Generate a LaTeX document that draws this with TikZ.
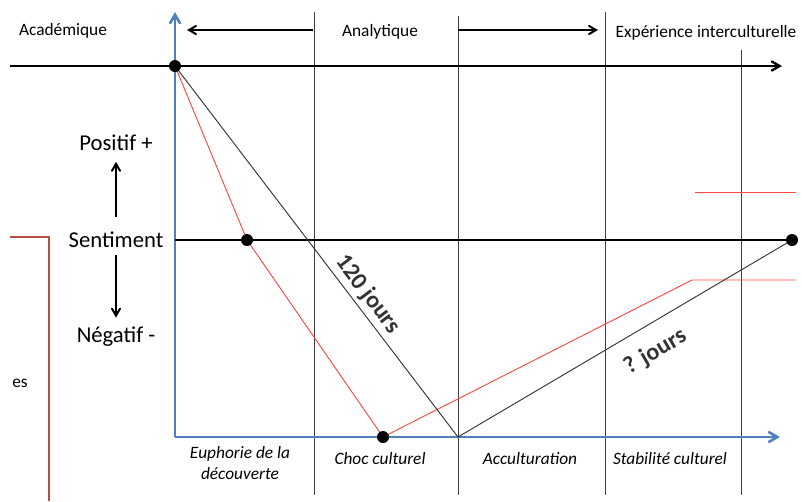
\documentclass[tikz,border=0pt]{standalone}
\usepackage{fontspec}
\setmainfont{Carlito}
\usetikzlibrary{arrows}

\definecolor{axisblue}{RGB}{79,129,189}
\definecolor{curvered}{RGB}{255,70,70}
\definecolor{bracketred}{RGB}{190,75,72}

\begin{document}
\begin{tikzpicture}[x=0.75pt,y=-0.75pt,>=angle 60,
  dot/.style={circle,fill=black,inner sep=0pt,minimum size=9pt},
  blueaxis/.style={axisblue,line width=2pt,->},
  sep/.style={black!75,line width=0.6pt},
  heavy/.style={black,line width=1.8pt},
  slope/.style={black!80,line width=0.7pt},
  redcurve/.style={curvered,line width=0.7pt},
  toptext/.style={font=\fontsize{13}{15}\selectfont},
  sidetext/.style={font=\fontsize{17}{20}\selectfont,inner sep=0pt},
  phase/.style={font=\itshape\fontsize{13}{16}\selectfont,align=center},
  days/.style={font=\bfseries\fontsize{18}{20}\selectfont,sloped,inner sep=3pt}]

\useasboundingbox (0,0) rectangle (802,501);

% points of the graph
\coordinate (B0) at (175,437);
\coordinate (Ytop) at (175,12);
\coordinate (Xend) at (780,437);
\coordinate (L0) at (10,66);
\coordinate (Lend) at (782,66);
\coordinate (S0) at (175,240);
\coordinate (O) at (175,66);
\coordinate (R1) at (247,240);
\coordinate (R2) at (383,437);
\coordinate (R3) at (692,280);
\coordinate (R4) at (796,280);
\coordinate (Rt1) at (695,192);
\coordinate (Rt2) at (796,192);
\coordinate (V) at (458,437);
\coordinate (E) at (792,240);

% phase separators
\foreach \x/\y in {314/12,458/16,605/12,741/50}
  \draw[sep] (\x,\y) -- (\x,495);

% axes
\draw[blueaxis] (B0) -- (Ytop);
\draw[blueaxis] (B0) -- (Xend);
\draw[heavy,->] (L0) -- (Lend);
\draw[heavy] (S0) -- (E);

% top arrows
\coordinate (A1) at (313,30);
\coordinate (A2) at (187,30);
\coordinate (A3) at (458,30);
\coordinate (A4) at (598,30);
\draw[->,line width=1.5pt] (A1) -- (A2);
\draw[->,line width=1.5pt] (A3) -- (A4);

% curves
\draw[redcurve] (O) -- (R1) -- (R2) -- (R3) -- (R4);
\draw[redcurve] (Rt1) -- (Rt2);
\draw[slope] (O) -- node[days,pos=0.64,above] {120 jours} (V)
  -- node[days,pos=0.55,below=9pt] {? jours} (E);
\draw[bracketred,line width=0.8pt] (10,237) -| (49,501);

\foreach \p in {O,R1,R2,E}
  \node[dot] at (\p) {};

% labels
\node[toptext] (acad) at (63,31) {Académique};
\node[toptext] (anal) at (380,32) {Analytique};
\node[toptext] (exp) at (706,33) {Expérience interculturelle};
\node[toptext] (es) at (20,383) {es};

\node[sidetext] (sent) at (116,240) {Sentiment};
\node[sidetext] (pos) at (116,143) {Positif +};
\node[sidetext] (neg) at (116,337) {Négatif -};
\draw[->,line width=1.5pt,shorten <=11pt,shorten >=8pt] (sent) -- (pos);
\draw[->,line width=1.5pt,shorten <=5pt,shorten >=7pt] (sent) -- (neg);

\node[phase] (euph) at (240,463) {Euphorie de la\\découverte};
\node[phase] (choc) at (380,459) {Choc culturel};
\node[phase] (accu) at (530,459) {Acculturation};
\node[phase] (stab) at (670,459) {Stabilité culturel};

\end{tikzpicture}
\end{document}
